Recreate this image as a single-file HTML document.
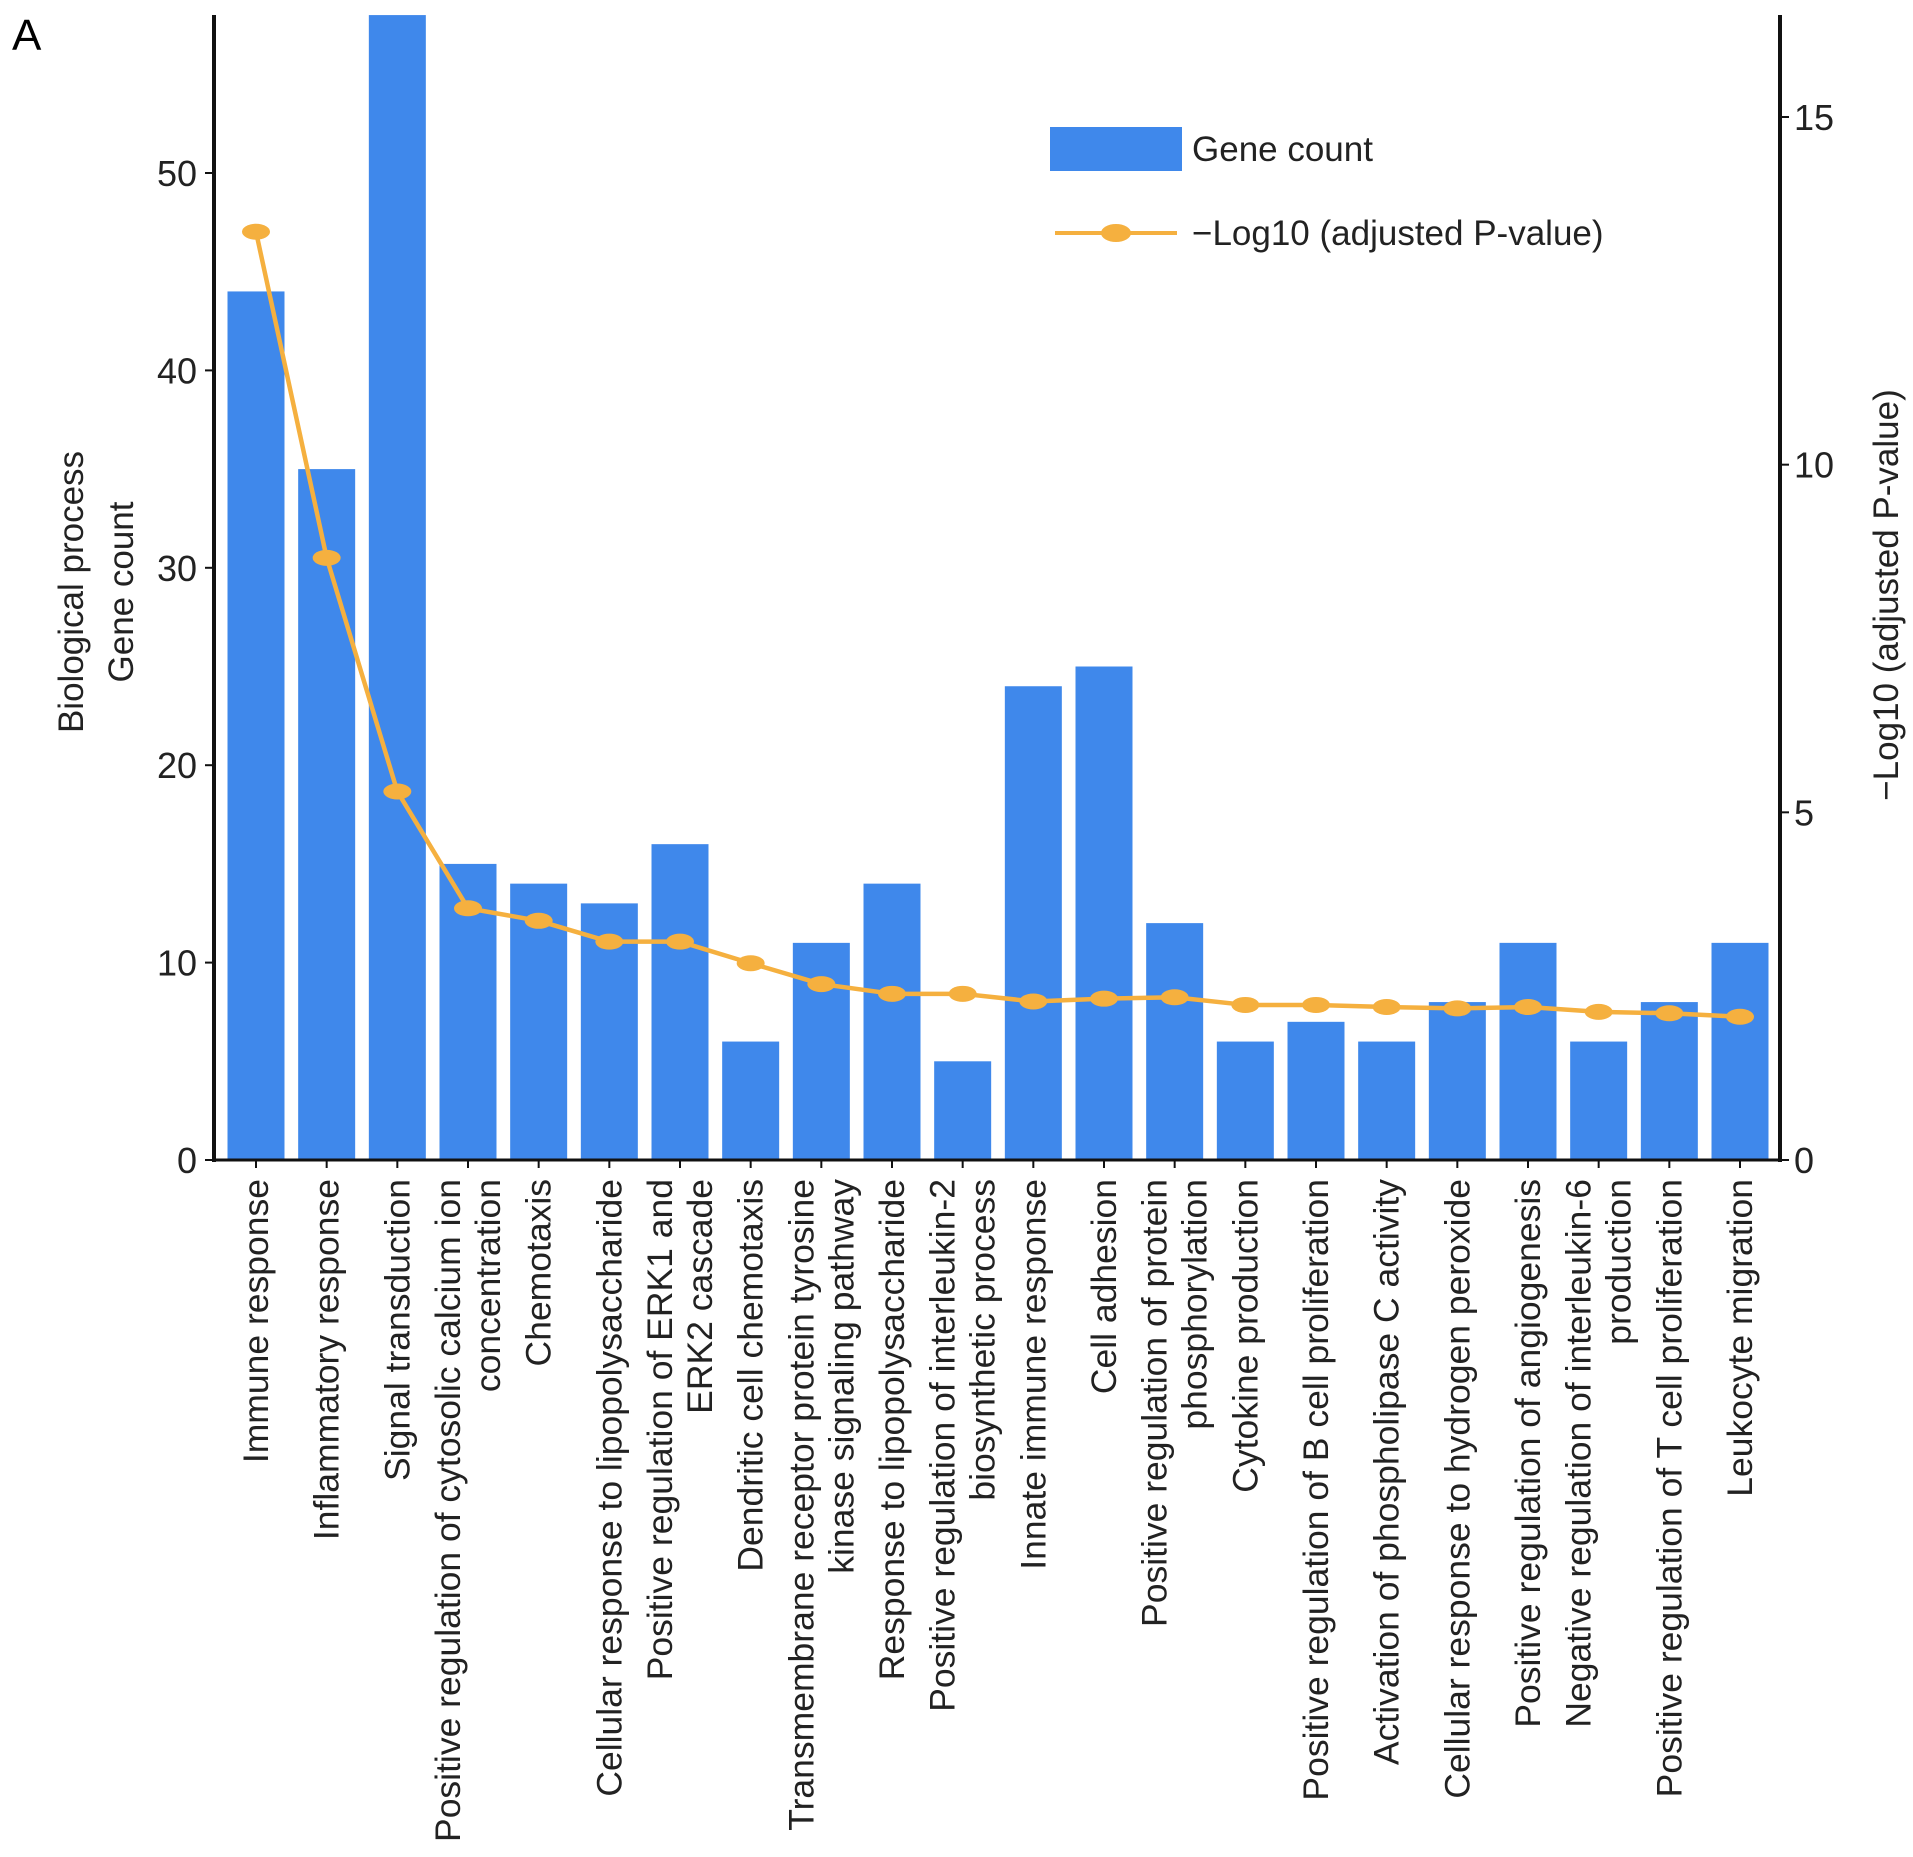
<!DOCTYPE html>
<html><head><meta charset="utf-8"><style>
body{margin:0;background:#fff}
svg{display:block;font-family:"Liberation Sans",Arial,sans-serif}
</style></head><body>
<svg id="chart" width="1913" height="1857" viewBox="0 0 1913 1857">
<text x="12" y="50" font-size="44">A</text>
<g id="bars"></g>
<g id="line"></g>
<g id="axes"></g>
<g id="xlabels"></g>
<text transform="translate(83,592) rotate(-90)" text-anchor="middle" font-size="35" fill="#222">Biological process</text>
<text transform="translate(133,592) rotate(-90)" text-anchor="middle" font-size="35" fill="#222">Gene count</text>
<text transform="translate(1898,595) rotate(-90)" text-anchor="middle" font-size="35" fill="#222">−Log10 (adjusted P-value)</text>
<g>
<rect x="1050" y="127" width="132" height="44" fill="#3f88eb"/>
<text x="1192" y="161" font-size="35" fill="#222">Gene count</text>
<line x1="1055" y1="233" x2="1177" y2="233" stroke="#f5b03f" stroke-width="4"/>
<ellipse cx="1116" cy="233" rx="15" ry="9" fill="#f5b03f"/>
<text x="1192" y="245" font-size="35" fill="#222">−Log10 (adjusted P-value)</text>
</g>
</svg>
<script>
const categories = [["Immune response"],["Inflammatory response"],["Signal transduction"],["Positive regulation of cytosolic calcium ion","concentration"],["Chemotaxis"],["Cellular response to lipopolysaccharide"],["Positive regulation of ERK1 and","ERK2 cascade"],["Dendritic cell chemotaxis"],["Transmembrane receptor protein tyrosine","kinase signaling pathway"],["Response to lipopolysaccharide"],["Positive regulation of interleukin-2","biosynthetic process"],["Innate immune response"],["Cell adhesion"],["Positive regulation of protein","phosphorylation"],["Cytokine production"],["Positive regulation of B cell proliferation"],["Activation of phospholipase C activity"],["Cellular response to hydrogen peroxide"],["Positive regulation of angiogenesis"],["Negative regulation of interleukin-6","production"],["Positive regulation of T cell proliferation"],["Leukocyte migration"]];
const geneCounts = [44,35,58,15,14,13,16,6,11,14,5,24,25,12,6,7,6,8,11,6,8,11];
const logP = [13.35,8.66,5.30,3.62,3.44,3.14,3.14,2.83,2.53,2.39,2.39,2.28,2.32,2.34,2.23,2.23,2.20,2.18,2.20,2.13,2.11,2.06];
const leftTicks = [0,10,20,30,40,50];
const rightTicks = [0,5,10,15];

const NS="http://www.w3.org/2000/svg";
const X0=214, X1=1780, Y0=1160, YTOP=15;
const yL=v=>Y0-(Y0-173)*v/50;
const yR=v=>Y0-(Y0-117)*v/15;
const xC=i=>256+i*(1740-256)/(categories.length-1);
const BW=57;
function mk(tag,attrs,parent){const e=document.createElementNS(NS,tag);for(const k in attrs)e.setAttribute(k,attrs[k]);parent.appendChild(e);return e;}
const gb=document.getElementById('bars'), gl=document.getElementById('line'), ga=document.getElementById('axes'), gx=document.getElementById('xlabels');
geneCounts.forEach((v,i)=>{
  const top=Math.max(yL(v),YTOP);
  const r=mk('rect',{x:xC(i)-BW/2,y:top,width:BW,height:Y0-top,fill:'#3f88eb'},gb);
  
  
});
const pts=logP.map((v,i)=>xC(i)+','+yR(v)).join(' ');
const pl=mk('polyline',{points:pts,fill:'none',stroke:'#f5b03f','stroke-width':4.5,'stroke-linejoin':'round'},gl);


logP.forEach((v,i)=>{
  const e=mk('ellipse',{cx:xC(i),cy:yR(v),rx:14,ry:8,fill:'#f5b03f'},gl);
  
  
});
let a=mk('line',{x1:X0,y1:YTOP,x2:X0,y2:Y0+2,stroke:'#111','stroke-width':4},ga);

a=mk('line',{x1:X1,y1:YTOP,x2:X1,y2:Y0+2,stroke:'#111','stroke-width':4},ga);

a=mk('line',{x1:X0,y1:Y0,x2:X1,y2:Y0,stroke:'#111','stroke-width':3},ga);

leftTicks.forEach(v=>{
  mk('line',{x1:X0-9,y1:yL(v),x2:X0,y2:yL(v),stroke:'#111','stroke-width':2},ga);
  const t=mk('text',{x:X0-17,y:yL(v)+13,'text-anchor':'end','font-size':36,fill:'#222'},ga);
  t.textContent=v;
  
  
});
rightTicks.forEach(v=>{
  mk('line',{x1:X1,y1:yR(v),x2:X1+9,y2:yR(v),stroke:'#111','stroke-width':2},ga);
  const t=mk('text',{x:X1+14,y:yR(v)+13,'font-size':36,fill:'#222'},ga);
  t.textContent=v;
  
  
});
categories.forEach((lines,i)=>{
  mk('line',{x1:xC(i),y1:Y0,x2:xC(i),y2:Y0+8,stroke:'#111','stroke-width':2},ga);
  const n=lines.length, lh=40;
  lines.forEach((s,j)=>{
    const x=xC(i)+12+(j-(n-1)/2)*lh;
    const t=mk('text',{transform:`translate(${x},1179) rotate(-90)`,'text-anchor':'end','font-size':35.5,fill:'#222'},gx);
    t.textContent=s;
    
    
  });
});
</script>
</body></html>
